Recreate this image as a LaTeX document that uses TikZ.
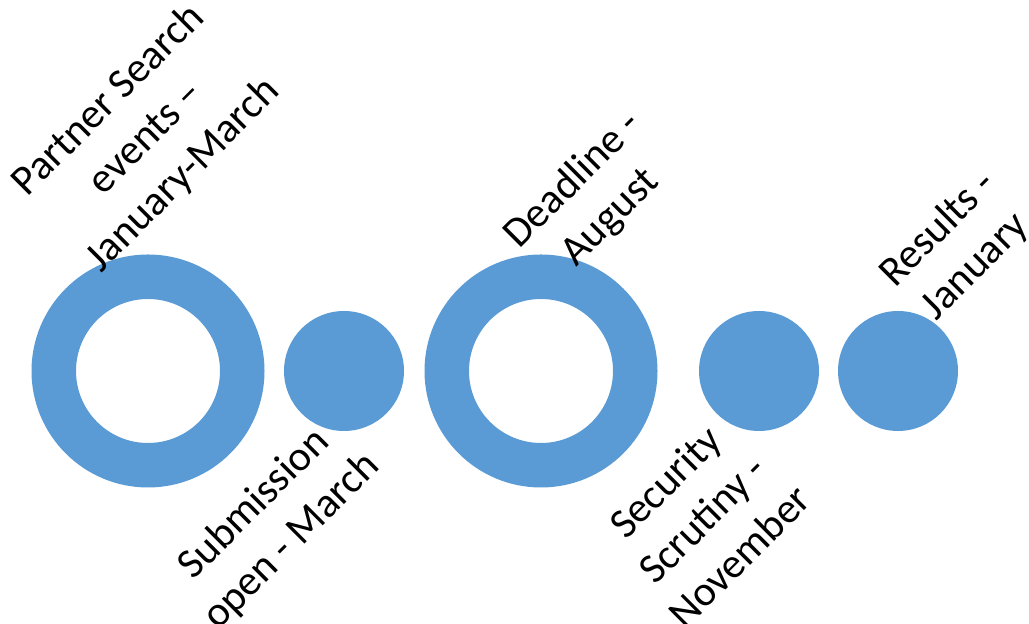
\documentclass[tikz,border=0pt]{standalone}
\usepackage{fontspec}
\setmainfont{Carlito}
\definecolor{dotblue}{HTML}{5B9BD5}
\tikzset{
  lbl/.style={rotate=45,align=center,font=\fontsize{24}{30}\selectfont,inner sep=0pt},
}
\begin{document}
\begin{tikzpicture}
    \useasboundingbox (0,0) rectangle (20.58,12.48);
    \fill[dotblue,even odd rule] (2.96,5.06) circle [radius=2.33] (2.96,5.06) circle [radius=1.44];
    \fill[dotblue] (6.88,5.06) circle [radius=1.2];
    \fill[dotblue,even odd rule] (10.82,5.06) circle [radius=2.33] (10.82,5.06) circle [radius=1.44];
    \fill[dotblue] (15.18,5.06) circle [radius=1.2];
    \fill[dotblue] (17.96,5.06) circle [radius=1.2];
    \node[lbl] (partner) at (2.92,9.72) {Partner Search\\events –\\January-March};
    \node[lbl] (submission) at (5.46,2.02) {Submission\\open - March};
    \node[lbl] (deadline) at (11.84,8.50) {Deadline -\\August};
    \node[lbl] (security) at (14.04,2.10) {Security\\Scrutiny -\\November};
    \node[lbl] (results) at (19.14,7.52) {Results -\\January};
  \end{tikzpicture}
\end{document}
